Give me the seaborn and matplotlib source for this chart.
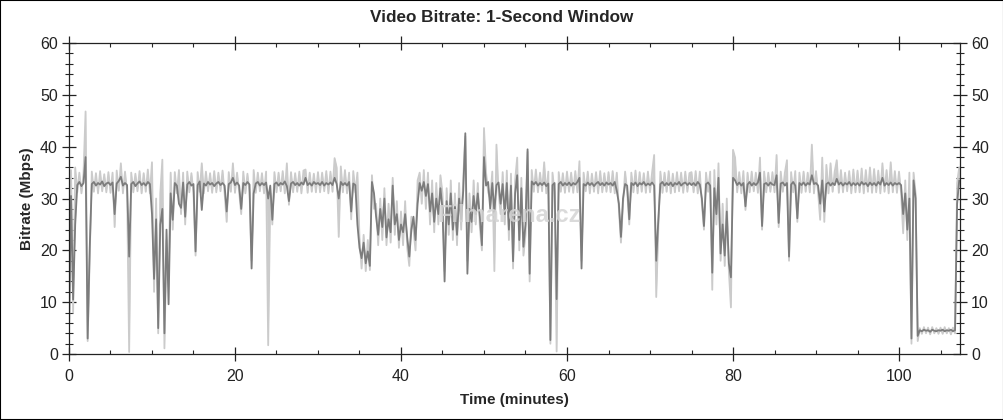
import numpy as np
import pandas as pd
import seaborn as sns
import matplotlib.pyplot as plt
from matplotlib.patches import Rectangle
from matplotlib.ticker import MultipleLocator

# Bitrate (Mbps), one value every 0.25 minute
time_step = 0.25

avg_mbps = [
    4.0, 30.5, 10.5, 25.0, 32.6, 33.2, 32.4, 33.0, 38.0, 3.0, 20.5, 32.8, 33.2, 32.5, 33.0, 32.7, 33.3, 32.4, 32.9, 33.1,
    32.6, 33.1, 27.0, 32.9, 33.4, 34.2, 32.5, 33.0, 32.6, 18.8, 32.8, 33.2, 32.4, 32.9, 33.3, 32.6, 33.0, 32.5, 33.2, 32.8,
    27.0, 14.5, 26.0, 5.0, 25.0, 28.0, 4.0, 24.0, 9.6, 31.0, 25.9, 33.0, 32.5, 29.0, 28.2, 33.1, 26.5, 32.7, 33.2, 32.5,
    32.8, 19.8, 32.6, 33.3, 27.8, 32.9, 32.5, 33.2, 32.7, 33.0, 32.4, 32.9, 33.2, 32.6, 33.0, 32.5, 27.5, 32.8, 33.1, 34.0,
    32.6, 33.1, 32.5, 28.0, 33.0, 32.6, 33.2, 32.7, 16.5, 31.0, 32.9, 33.2, 32.5, 33.0, 32.6, 33.1, 30.0, 32.5, 25.9, 32.8,
    33.1, 32.5, 33.0, 32.7, 33.3, 32.4, 29.5, 32.9, 33.2, 32.6, 33.0, 32.5, 33.1, 32.7, 34.0, 32.6, 33.0, 32.5, 33.2, 32.8,
    33.0, 32.6, 33.2, 32.5, 33.0, 32.7, 33.1, 32.6, 34.0, 32.8, 30.0, 33.2, 32.6, 33.0, 32.5, 33.2, 27.5, 32.9, 32.6, 25.0,
    20.5, 18.5, 21.5, 17.5, 19.8, 17.0, 33.2, 31.0, 26.5, 23.0, 28.0, 24.5, 30.0, 22.5, 26.0, 23.5, 32.5, 25.0, 27.0, 22.0,
    25.0, 23.5, 27.0, 22.5, 18.8, 24.0, 26.5, 22.0, 29.0, 33.0, 31.5, 33.2, 30.5, 32.8, 27.5, 31.0, 25.5, 30.0, 27.0, 32.0,
    28.0, 14.0, 29.5, 25.0, 31.0, 24.0, 28.5, 23.0, 30.0, 26.0, 31.5, 42.6, 15.5, 28.0, 25.5, 30.5, 27.0, 31.0, 26.5, 21.0,
    38.0, 32.5, 33.2, 28.0, 33.0, 27.5, 32.6, 33.1, 29.0, 32.8, 27.0, 33.0, 24.0, 32.5, 17.9, 31.0, 34.5, 22.0, 32.0, 20.7,
    25.0, 39.5, 15.5, 33.3, 32.7, 33.2, 32.5, 33.0, 32.6, 33.1, 32.4, 32.9, 2.7, 32.6, 33.0, 10.6, 32.8, 33.2, 32.5, 33.0,
    32.6, 33.1, 32.5, 33.0, 32.7, 33.2, 34.0, 16.5, 32.8, 32.5, 33.1, 32.6, 33.0, 32.4, 32.9, 33.2, 32.6, 33.0, 32.5, 33.1,
    32.7, 33.0, 32.5, 33.2, 31.5, 29.0, 22.6, 30.0, 32.8, 32.5, 26.0, 33.0, 32.6, 33.1, 32.4, 33.0, 32.7, 33.2, 32.5, 32.9,
    32.6, 33.1, 32.5, 18.0, 25.9, 32.8, 33.2, 32.5, 33.0, 32.6, 33.1, 32.4, 33.0, 32.7, 33.2, 32.5, 32.9, 33.1, 32.6, 33.0,
    32.6, 33.0, 32.5, 33.2, 32.7, 30.0, 24.7, 32.8, 33.1, 32.5, 15.7, 32.0, 27.0, 34.0, 19.4, 25.0, 19.0, 27.5, 17.5, 14.8,
    34.0, 33.5, 32.6, 33.1, 32.5, 33.0, 28.5, 32.7, 33.2, 32.5, 33.0, 32.6, 33.1, 35.0, 24.7, 32.8, 33.0, 32.5, 33.1, 32.7,
    32.6, 34.5, 25.3, 32.9, 33.1, 32.5, 33.0, 18.8, 32.7, 33.2, 32.5, 26.2, 33.0, 32.6, 33.1, 32.5, 33.0, 32.7, 34.5, 32.8,
    33.0, 32.5, 29.0, 33.5, 27.5, 32.8, 33.1, 32.5, 33.0, 32.6, 33.8, 32.7, 33.1, 32.5, 33.0, 32.7, 33.2, 32.5, 33.0, 32.6,
    33.0, 32.5, 33.2, 32.7, 33.0, 32.4, 33.1, 32.6, 33.0, 32.5, 33.2, 32.7, 34.0, 32.5, 33.0, 32.6, 33.1, 32.5, 33.0, 32.7,
    33.0, 32.6, 27.0, 31.0, 24.0, 30.0, 3.0, 33.5, 30.0, 3.5, 4.6, 4.4, 4.7, 4.5, 4.6, 4.3, 4.7, 4.5, 4.4, 4.6,
    4.5, 4.7, 4.4, 4.6, 4.5, 4.7, 4.4, 4.6, 29.0, 33.5,
]

peak_mbps = [
    3.5, 35.5, 8.0, 36.0, 31.2, 35.0, 31.0, 34.8, 46.8, 2.5, 19.0, 35.2, 31.3, 34.9, 31.0, 35.3, 31.4, 34.7, 31.2, 35.1,
    31.1, 35.0, 24.5, 35.4, 31.5, 36.8, 31.0, 35.2, 31.3, 0.4, 35.0, 31.2, 34.8, 31.4, 35.3, 31.0, 34.9, 31.3, 35.6, 31.0,
    37.0, 12.0, 30.0, 4.0, 31.0, 37.5, 1.1, 22.0, 14.8, 35.0, 24.0, 35.1, 31.0, 35.5, 27.0, 35.0, 25.0, 35.2, 31.2, 34.9,
    31.2, 19.0, 35.1, 31.3, 36.8, 31.0, 35.2, 31.4, 34.9, 31.1, 35.3, 31.2, 35.0, 31.4, 35.4, 31.0, 25.5, 35.1, 31.3, 36.8,
    31.1, 35.0, 31.3, 27.0, 35.2, 31.0, 34.8, 31.2, 18.0, 35.5, 31.1, 35.0, 31.4, 34.9, 31.0, 35.2, 1.7, 31.0, 25.0, 35.1,
    31.2, 35.0, 31.4, 35.3, 31.0, 36.8, 28.8, 35.1, 31.2, 34.9, 31.3, 35.2, 31.0, 35.4, 35.6, 31.1, 35.0, 31.3, 34.8, 31.2,
    35.1, 31.2, 35.0, 31.4, 35.3, 31.0, 35.2, 31.3, 37.8, 36.0, 22.6, 36.2, 31.2, 35.5, 31.0, 35.0, 26.0, 35.3, 31.2, 35.0,
    22.5, 16.5, 23.0, 16.0, 22.0, 16.2, 34.5, 28.0, 29.0, 21.0, 30.0, 22.0, 32.0, 21.0, 29.0, 21.5, 34.0, 23.0, 29.5, 20.5,
    27.5, 21.0, 29.5, 20.5, 17.0, 26.5, 24.0, 20.0, 33.5, 35.0, 29.0, 35.5, 28.0, 35.0, 25.0, 33.5, 23.5, 33.0, 25.0, 34.5,
    31.0, 16.0, 32.0, 23.0, 33.5, 22.0, 31.0, 21.0, 33.0, 24.0, 34.0, 42.0, 18.0, 31.0, 23.5, 33.5, 25.0, 33.0, 24.5, 20.0,
    43.6, 35.0, 31.2, 30.0, 35.2, 16.0, 40.4, 31.3, 27.0, 35.1, 25.0, 35.4, 22.0, 34.8, 16.5, 33.5, 37.9, 20.0, 34.0, 19.0,
    23.0, 39.0, 14.0, 35.5, 31.3, 35.6, 31.2, 35.0, 31.4, 37.0, 31.0, 35.2, 2.0, 35.0, 31.2, 0.5, 35.1, 31.3, 34.9, 31.1,
    35.2, 31.3, 35.0, 31.1, 35.3, 31.2, 37.2, 18.0, 35.0, 31.4, 35.2, 31.0, 34.8, 31.3, 35.1, 31.0, 35.3, 31.2, 34.9, 31.3,
    35.1, 31.2, 35.3, 31.0, 35.0, 28.0, 21.5, 29.0, 35.2, 31.3, 25.0, 35.0, 31.2, 35.4, 31.0, 35.1, 31.3, 34.9, 31.1, 35.2,
    31.2, 35.0, 38.4, 11.0, 24.0, 35.2, 31.1, 35.0, 31.3, 35.3, 31.0, 34.8, 31.2, 35.1, 31.4, 35.0, 31.1, 35.2, 31.3, 34.9,
    35.1, 31.2, 35.3, 31.0, 35.2, 29.0, 24.0, 35.0, 31.3, 35.2, 12.4, 35.5, 25.0, 36.8, 18.0, 29.0, 17.0, 30.0, 16.0, 9.0,
    39.4, 37.9, 31.2, 35.1, 31.0, 35.3, 27.8, 35.0, 31.2, 35.2, 31.4, 35.0, 31.1, 37.9, 24.0, 35.2, 31.2, 35.0, 31.3, 35.1,
    31.2, 38.4, 24.5, 35.2, 31.3, 35.0, 37.4, 18.0, 35.1, 31.2, 35.3, 25.5, 35.0, 31.1, 35.2, 31.3, 35.0, 31.2, 40.4, 31.0,
    35.3, 31.2, 25.9, 37.9, 25.5, 36.5, 31.0, 36.8, 31.3, 35.2, 37.4, 31.1, 35.5, 31.2, 35.0, 31.4, 35.3, 31.0, 35.6, 31.2,
    35.4, 31.2, 35.8, 31.0, 35.5, 31.3, 36.0, 31.1, 35.7, 31.2, 35.4, 31.0, 36.8, 31.3, 35.5, 31.0, 37.0, 31.2, 35.3, 31.1,
    35.2, 31.0, 23.3, 33.5, 22.0, 35.0, 2.0, 35.0, 31.0, 2.5, 5.0, 3.9, 5.2, 4.0, 5.1, 3.8, 5.2, 4.0, 5.0, 3.9,
    5.1, 3.9, 5.2, 4.0, 5.0, 3.8, 5.1, 4.0, 33.0, 36.0,
]

minutes = np.arange(len(avg_mbps)) * time_step
df = pd.DataFrame({"minutes": minutes, "avg": avg_mbps, "peak": peak_mbps})

sns.set_style("white")
plt.rcParams['font.family'] = ['Liberation Sans', 'DejaVu Sans']

fig = plt.figure(figsize=(10.04, 4.2), dpi=100)
ax = fig.add_axes([0.0687, 0.157, 0.8875, 0.7405])

light = "#cbcbcb"
dark = "#7c7c7c"
# light spread band between the average and the peak values
ax.fill_between(df["minutes"], df["avg"], df["peak"], color=light, linewidth=0)
sns.lineplot(data=df, x="minutes", y="peak", color=light, linewidth=1.3, estimator=None, ax=ax)
sns.lineplot(data=df, x="minutes", y="avg", color=dark, linewidth=1.3, estimator=None, ax=ax)

ax.set_xlim(0, 107.35)
ax.set_ylim(0, 60)
ax.xaxis.set_major_locator(MultipleLocator(20))
ax.xaxis.set_minor_locator(MultipleLocator(5))
ax.yaxis.set_major_locator(MultipleLocator(10))
ax.yaxis.set_minor_locator(MultipleLocator(2))

for s in ax.spines.values():
    s.set_color("#222222")
    s.set_linewidth(0.9)

ax.tick_params(axis="y", which="major", direction="inout", length=10, width=0.9,
               left=True, right=True, labelleft=True, labelright=True,
               labelsize=11.5, colors="#222222", pad=3)
ax.tick_params(axis="y", which="minor", direction="inout", length=6, width=0.8,
               left=True, right=True)
ax.tick_params(axis="x", which="major", direction="inout", length=10, width=0.9,
               bottom=True, top=True, labelsize=11.5, colors="#222222", pad=6)
ax.tick_params(axis="x", which="minor", direction="in", length=3, width=0.8,
               bottom=True, top=True)

ax.set_xlabel("Time (minutes)", fontsize=11, fontweight="bold", labelpad=6)
ax.set_ylabel("Bitrate (Mbps)", fontsize=11, fontweight="bold", labelpad=4)
fig.suptitle("Video Bitrate: 1-Second Window", fontsize=12.3, fontweight="bold", y=0.977)

# watermark
ax.text(53.0, 26.8, "Filmarena.cz", fontsize=17, fontweight="bold", color="#d4d4d4",
        alpha=0.85, ha="center", va="center", zorder=5)

fig.patches.append(Rectangle((0, 0), 1, 1, transform=fig.transFigure, fill=False,
                             edgecolor="black", linewidth=1.5))

plt.savefig("out.png", dpi=100)
